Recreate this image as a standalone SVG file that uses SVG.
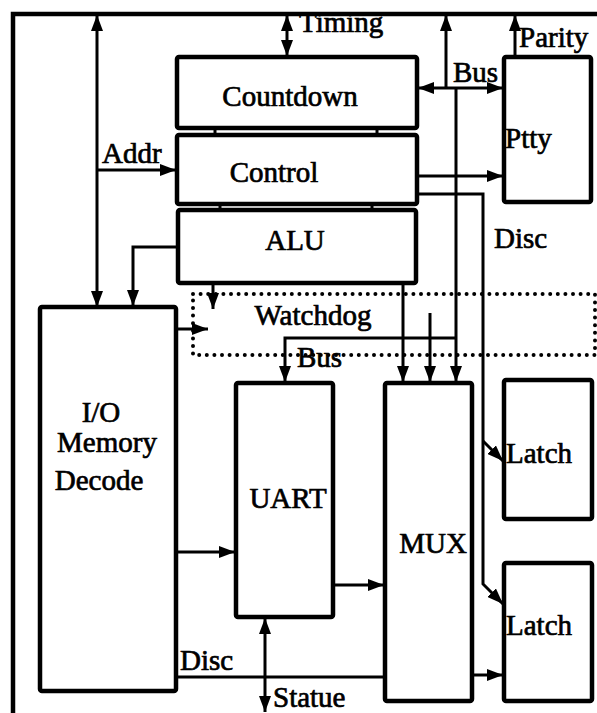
<svg xmlns="http://www.w3.org/2000/svg" width="597" height="713" viewBox="0 0 597 713">
<style>
.box{fill:none;stroke:#000;stroke-width:4.5}
.ln{fill:none;stroke:#000;stroke-width:3}
.dot{fill:none;stroke:#000;stroke-width:4;stroke-dasharray:0 7.6;stroke-linecap:round}
text{font-family:'Liberation Serif','Times New Roman','DejaVu Serif',serif;font-size:29px;fill:#000;stroke:#000;stroke-width:0.7}
.m{text-anchor:middle}
</style>
<defs>
<marker id="ah" viewBox="0 0 16 12" refX="16" refY="6" markerWidth="16" markerHeight="12" markerUnits="userSpaceOnUse" orient="auto-start-reverse">
<path d="M0,0 L16,6 L0,12 z" fill="#000"/>
</marker>
</defs>
<rect width="597" height="713" fill="#fff"/>
<g id="frame">
<polyline class="box" points="13,713 13,14 597,14"/>
</g>
<g id="countdown"><rect class="box" x="177" y="57" width="240" height="71" rx="2"/><text class="m" x="290" y="106">Countdown</text></g>
<g id="control"><rect class="box" x="177" y="135" width="240" height="69" rx="2"/><text class="m" x="274" y="182">Control</text></g>
<g id="alu"><rect class="box" x="178" y="210" width="238" height="73" rx="2"/><text class="m" x="295" y="250">ALU</text></g>
<g id="watchdog"><rect class="dot" x="193" y="294" width="402" height="61"/><text class="m" x="313" y="325">Watchdog</text></g>
<g id="ptty"><rect class="box" x="504" y="57" width="87" height="145" rx="2"/><text x="505" y="148">Ptty</text></g>
<g id="io"><rect class="box" x="40" y="307" width="136" height="384" rx="2"/><text class="m" x="101" y="422">I/O</text><text class="m" x="107" y="452">Memory</text><text class="m" x="99" y="490">Decode</text></g>
<g id="uart"><rect class="box" x="236" y="383" width="97" height="234" rx="2"/><text class="m" x="288" y="508">UART</text></g>
<g id="mux"><rect class="box" x="385" y="383" width="87" height="318" rx="2"/><text class="m" x="433" y="553">MUX</text></g>
<g id="latch1"><rect class="box" x="504" y="380" width="88" height="139" rx="2"/><text x="506" y="463">Latch</text></g>
<g id="latch2"><rect class="box" x="504" y="563" width="88" height="138" rx="2"/><text x="506" y="635">Latch</text></g>
<g id="connectors">
<line class="ln" x1="97" y1="307" x2="97" y2="15" marker-start="url(#ah)" marker-end="url(#ah)"/>
<line class="ln" x1="97" y1="170" x2="176" y2="170" marker-end="url(#ah)"/>
<line class="ln" x1="287" y1="56" x2="287" y2="15" marker-start="url(#ah)" marker-end="url(#ah)"/>
<line class="ln" x1="446" y1="88" x2="446" y2="15" marker-end="url(#ah)"/>
<line class="ln" x1="418" y1="88" x2="503" y2="88" marker-start="url(#ah)" marker-end="url(#ah)"/>
<line class="ln" x1="456" y1="88" x2="456" y2="382" marker-end="url(#ah)"/>
<line class="ln" x1="515" y1="56" x2="515" y2="15" marker-end="url(#ah)"/>
<line class="ln" x1="418" y1="176" x2="503" y2="176" marker-end="url(#ah)"/>
<polyline class="ln" points="418,194 483,194 483,584 503,604" marker-end="url(#ah)"/>
<line class="ln" x1="483" y1="441" x2="503" y2="461" marker-end="url(#ah)"/>
<polyline class="ln" points="178,247 133,247 133,306" marker-end="url(#ah)"/>
<line class="ln" x1="213" y1="284" x2="213" y2="309" marker-end="url(#ah)"/>
<line class="ln" x1="177" y1="329" x2="208" y2="329" marker-end="url(#ah)"/>
<line class="ln" x1="403" y1="284" x2="403" y2="382" marker-end="url(#ah)"/>
<line class="ln" x1="430" y1="313" x2="430" y2="382" marker-end="url(#ah)"/>
<polyline class="ln" points="456,338 285,338 285,382" marker-end="url(#ah)"/>
<line class="ln" x1="177" y1="552" x2="235" y2="552" marker-end="url(#ah)"/>
<line class="ln" x1="334" y1="585" x2="384" y2="585" marker-end="url(#ah)"/>
<line class="ln" x1="473" y1="675" x2="503" y2="675" marker-end="url(#ah)"/>
<line class="ln" x1="177" y1="677" x2="385" y2="677"/>
<line class="ln" x1="265" y1="618" x2="265" y2="712" marker-start="url(#ah)" marker-end="url(#ah)"/>
<line class="ln" x1="215" y1="128" x2="215" y2="135"/>
<line class="ln" x1="377" y1="128" x2="377" y2="135"/>
<line class="ln" x1="220" y1="204" x2="220" y2="210"/>
<line class="ln" x1="372" y1="204" x2="372" y2="210"/>
</g>
<g id="labels">
<text x="102" y="163">Addr</text>
<text x="299" y="32">Timing</text>
<text x="453" y="82">Bus</text>
<text x="519" y="47">Parity</text>
<text x="494" y="248">Disc</text>
<text x="297" y="367">Bus</text>
<text x="180" y="670">Disc</text>
<text x="273" y="707">Statue</text>
</g>
</svg>
